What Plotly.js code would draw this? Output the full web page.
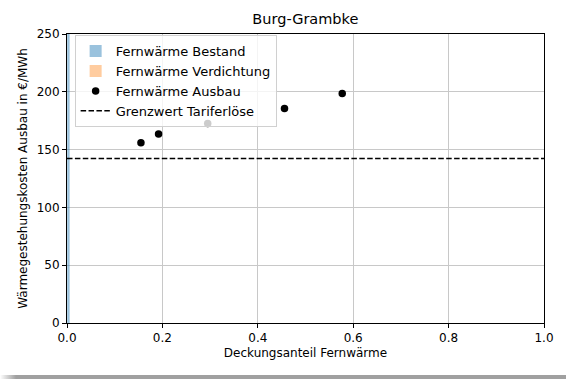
<!DOCTYPE html>
<html>
<head>
<meta charset="utf-8">
<script src="https://cdn.plot.ly/plotly-3.0.1.min.js"></script>
<style>
  html, body { margin: 0; padding: 0; background: #ffffff; }
  #wrap { position: relative; width: 566px; height: 379px; overflow: hidden; }
  #chart { width: 566px; height: 379px; }
  #edge { position: absolute; left: 0; top: 375px; width: 566px; height: 4px;
          background: linear-gradient(to right, #ffffff 0px, #a0a0a0 16px, #a0a0a0 100%); }
</style>
</head>
<body>
<div id="wrap">
  <div id="chart"></div>
  <div id="edge"></div>
</div>
<script>
// ---- data ----
const titleText = "Burg-Grambke";
const xTitle = "Deckungsanteil Fernwärme";
const yTitle = "Wärmegestehungskosten Ausbau in €/MWh";

// Fernwärme Bestand: thin bar at share 0
const bestandX = [0.003];
const bestandWidth = [0.005];
const bestandKosten = [250];

// Fernwärme Verdichtung: no visible bar (zero height)
const verdichtungX = [0];
const verdichtungWidth = [0.001];
const verdichtungKosten = [0];

// Fernwärme Ausbau points
const ausbauAnteil = [0.155, 0.192, 0.295, 0.456, 0.577];
const ausbauKosten = [156, 163.5, 172.5, 185.5, 198.5];

// Grenzwert Tariferlöse
const grenzX = [0, 1];
const grenzwert = [142.4, 142.4];

const xTicks = [0, 0.2, 0.4, 0.6, 0.8, 1.0];
const xTickText = ["0.0", "0.2", "0.4", "0.6", "0.8", "1.0"];
const yTicks = [0, 50, 100, 150, 200, 250];

const font = "DejaVu Sans, sans-serif";

const traces = [
  {
    type: "bar", name: "Fernwärme Bestand",
    x: bestandX, y: bestandKosten, width: bestandWidth,
    marker: { color: "rgba(31,119,180,0.45)", line: { width: 0 } },
    hoverinfo: "skip", cliponaxis: true
  },
  {
    type: "bar", name: "Fernwärme Verdichtung",
    x: verdichtungX, y: verdichtungKosten, width: verdichtungWidth,
    marker: { color: "rgba(255,127,14,0.4)", line: { width: 0 } },
    showlegend: true, hoverinfo: "skip"
  },
  {
    type: "scatter", mode: "markers", name: "Fernwärme Ausbau",
    x: ausbauAnteil, y: ausbauKosten,
    marker: { color: "#000000", size: 7.5 }
  },
  {
    type: "scatter", mode: "lines", name: "Grenzwert Tariferlöse",
    x: grenzX, y: grenzwert,
    line: { color: "#000000", width: 1.5, dash: "5.5px,2.4px" }
  }
];

const layout = {
  width: 566, height: 379,
  margin: { l: 67, r: 22, t: 34, b: 56, pad: 0 },
  paper_bgcolor: "#ffffff", plot_bgcolor: "#ffffff",
  font: { family: font, size: 12, color: "#000000" },
  title: { text: titleText, x: 0.5395, xanchor: "center", y: 0.95, yanchor: "middle",
           font: { family: font, size: 14.5, color: "#000000" } },
  barmode: "overlay",
  showlegend: true,
  legend: {
    x: 0.016, y: 0.996, xanchor: "left", yanchor: "top",
    bgcolor: "rgba(255,255,255,0.8)", bordercolor: "#d0d0d0", borderwidth: 1,
    font: { family: font, size: 13, color: "#000000" },
    traceorder: "normal", tracegroupgap: 0, itemwidth: 30
  },
  xaxis: {
    range: [0, 1], tickvals: xTicks, ticktext: xTickText,
    showgrid: true, gridcolor: "#c8c8c8", gridwidth: 1,
    zeroline: false, showline: true, mirror: true, linecolor: "#000000", linewidth: 1,
    ticks: "outside", ticklen: 4, tickcolor: "#000000", tickwidth: 1,
    tickfont: { family: font, size: 12, color: "#000000" },
    title: { text: xTitle, font: { family: font, size: 12, color: "#000000" }, standoff: 4 }
  },
  yaxis: {
    range: [0, 250], tickvals: yTicks,
    showgrid: true, gridcolor: "#c8c8c8", gridwidth: 1,
    zeroline: false, showline: true, mirror: true, linecolor: "#000000", linewidth: 1,
    ticks: "outside", ticklen: 4, tickcolor: "#000000", tickwidth: 1,
    tickfont: { family: font, size: 12, color: "#000000" },
    title: { text: yTitle, font: { family: font, size: 12, color: "#000000" }, standoff: 6 }
  }
};

Plotly.newPlot("chart", traces, layout, { displayModeBar: false, staticPlot: true });
</script>
</body>
</html>
